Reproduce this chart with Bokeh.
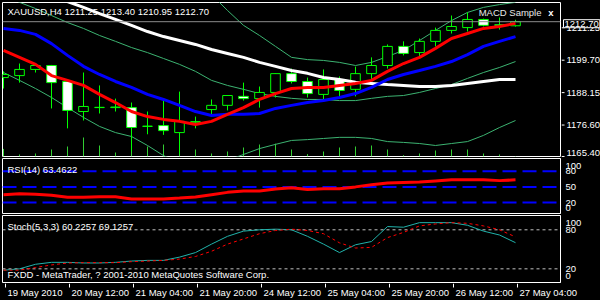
from bokeh.plotting import figure
from bokeh.layouts import column, row
from bokeh.models import (LinearAxis, Range1d, FixedTicker, Span, Label,
                          ColumnDataSource)
from bokeh.core.properties import value
from bokeh.embed import file_html
from bokeh.resources import INLINE

# ---------------- data ----------------
symbol = "XAUUSD"
timeframe = "H4"
ea_name = "MACD Sample"
copyright_text = "FXDD - MetaTrader, ? 2001-2010 MetaQuotes Software Corp."

time_label_bars = [0, 4, 8, 12, 16, 20, 24, 28, 32]
time_labels = ["19 May 2010", "20 May 12:00", "21 May 04:00", "21 May 20:00",
               "24 May 12:00", "25 May 04:00", "25 May 20:00", "26 May 12:00",
               "27 May 04:00"]

open_ = [1192.8, 1193.5, 1195.7, 1197.1, 1191.4, 1180.7, 1182.1, 1182.1, 1182.1, 1175.4,
         1175.7, 1173.2, 1176.9, 1181.4, 1182.9, 1186.1, 1185.3, 1187.5, 1194.2, 1191.4,
         1186.8, 1192.1, 1188.6, 1194.2, 1197.1, 1203.9, 1201.7, 1205.7, 1209.6, 1210.6,
         1213.5, 1211.6, 1211.25]
high = [1195.0, 1197.8, 1197.8, 1197.3, 1191.5, 1194.6, 1190.0, 1185.3, 1183.9, 1180.7,
        1185.0, 1187.8, 1178.9, 1185.0, 1186.5, 1191.0, 1189.6, 1194.3, 1196.0, 1192.8,
        1195.7, 1193.2, 1196.7, 1200.0, 1204.6, 1205.7, 1206.7, 1210.6, 1214.9, 1216.0,
        1213.8, 1214.2, 1213.40]
low = [1188.9, 1191.0, 1194.6, 1181.8, 1174.7, 1177.5, 1180.0, 1180.7, 1166.5, 1172.6,
       1172.4, 1165.5, 1174.7, 1179.3, 1181.1, 1184.6, 1182.1, 1185.7, 1190.7, 1185.7,
       1185.0, 1185.7, 1186.1, 1191.8, 1196.0, 1200.7, 1200.0, 1203.9, 1208.5, 1209.2,
       1211.0, 1209.9, 1210.95]
close = [1193.9, 1195.7, 1197.1, 1191.0, 1181.1, 1182.5, 1182.2, 1182.3, 1175.0, 1175.5,
         1173.9, 1177.2, 1177.1, 1182.9, 1186.4, 1185.3, 1187.5, 1194.2, 1191.4, 1187.1,
         1192.1, 1188.2, 1194.2, 1197.1, 1203.9, 1201.4, 1205.7, 1209.6, 1211.0, 1213.5,
         1211.4, 1211.4, 1212.70]
volume = [1900, 500, 750, 1750, 2500, 4750, 2750, 1000, 2250, 2500, 3000, 2000, 1750,
          750, 1250, 2250, 3000, 3200, 1750, 600, 1250, 2250, 2500, 2750, 1750, 330,
          750, 1500, 1750, 1750, 750, 500, 120]

ma_red = [1202.5, 1200.0, 1197.5, 1193.5, 1191.8, 1190.0, 1186.8, 1183.9, 1180.7, 1178.9,
          1177.9, 1177.2, 1176.1, 1177.2, 1179.7, 1182.1, 1185.0, 1187.1, 1188.9, 1189.3,
          1189.3, 1190.0, 1190.7, 1191.8, 1195.0, 1197.8, 1200.0, 1203.2, 1206.7, 1208.5,
          1210.3, 1211.0, 1212.1]
ma_blue = [1210.3, 1209.6, 1208.2, 1204.9, 1200.7, 1196.8, 1193.9, 1191.4, 1189.3, 1186.8,
           1185.0, 1182.9, 1180.7, 1179.3, 1179.7, 1179.7, 1180.0, 1181.8, 1182.9, 1183.9,
           1184.6, 1185.7, 1187.1, 1189.3, 1192.1, 1193.9, 1195.3, 1196.8, 1198.5, 1201.0,
           1203.9, 1205.7, 1207.4]
ma_white = [1228.1, 1225.6, 1223.1, 1221.3, 1219.9, 1217.8, 1215.6, 1213.5, 1211.4, 1209.2,
            1207.4, 1206.0, 1204.6, 1202.8, 1201.4, 1200.0, 1198.2, 1196.8, 1195.3, 1194.3,
            1192.8, 1192.1, 1191.1, 1190.7, 1190.3, 1190.0, 1189.6, 1189.6, 1190.0, 1190.7,
            1191.4, 1192.1, 1192.1]
bb_upper = [1249.5, 1247.3, 1245.9, 1244.1, 1242.7, 1242.0, 1240.2, 1238.1, 1235.2, 1234.9,
            1234.2, 1232.4, 1229.5, 1222.4, 1216.7, 1211.4, 1207.8, 1203.9, 1200.0, 1199.2,
            1198.9, 1198.2, 1197.1, 1198.2, 1200.3, 1202.5, 1206.0, 1209.6, 1213.1, 1216.0,
            1217.8, 1218.8, 1219.6]
bb_mid = [1222.0, 1219.6, 1217.4, 1214.9, 1212.4, 1210.3, 1207.8, 1205.7, 1203.5, 1201.7,
          1199.6, 1197.5, 1195.0, 1191.8, 1190.0, 1188.6, 1187.1, 1186.1, 1185.4, 1185.0,
          1185.0, 1184.6, 1184.6, 1185.4, 1186.1, 1186.4, 1187.5, 1188.9, 1190.3, 1192.5,
          1194.6, 1196.4, 1198.5]
bb_lower = [1194.6, 1191.8, 1188.9, 1185.7, 1182.1, 1178.6, 1175.4, 1173.2, 1171.8, 1168.6,
            1165.0, 1162.6, 1160.4, 1161.1, 1163.3, 1165.4, 1167.5, 1169.0, 1170.4, 1170.7,
            1171.1, 1171.5, 1171.5, 1171.1, 1170.0, 1169.7, 1169.3, 1168.6, 1169.3, 1170.0,
            1172.2, 1175.0, 1177.5]

rsi = [35, 37, 36, 34, 30, 30, 31, 31, 27, 27, 27, 28.5, 30.5, 35, 39.5, 42, 42, 46, 48.5,
       45, 46.5, 46.5, 50, 54, 57.5, 58.5, 59.5, 61.5, 63.5, 63.5, 63.5, 62, 63.4622]
stoch_main = [18, 20, 27, 30, 30, 29, 29, 30, 32, 33, 33, 38, 45, 58, 70, 78, 80, 81, 80,
              70, 58, 45, 57, 62, 85, 84, 91, 91, 91, 87, 78, 72, 60.2257]
stoch_signal = [18, 18, 22, 26, 29, 29.5, 29.5, 29.5, 31, 32, 33, 35, 39, 47, 58, 66, 74,
                79, 81, 79, 74, 60, 52, 53, 68, 76, 86, 89, 91, 90, 86, 80, 69.1257]

price_ticks = [1165.40, 1176.60, 1188.15, 1199.70, 1211.25]
rsi_levels = [20, 50, 80]
stoch_levels = [20, 80]

# ---------------- layout / style ----------------
FONT = "Liberation Sans"
FS = "9.5px"
BAR_PX = 16
FRAME_W = 558
FIRST_BAR_PX = 1
MAIN_FRAME_H = 154
SCALE_W = 39
idx = list(range(len(close)))

xr = Range1d(-FIRST_BAR_PX / BAR_PX, (FRAME_W - FIRST_BAR_PX) / BAR_PX)
main_r = Range1d(1164.68, 1219.54)
rsi_r = Range1d(-1, 104.4)
sto_r = Range1d(-1, 102)


def base_fig(frame_h, yr, top, bottom, total_h, right=40):
    return figure(width=2 + FRAME_W + right, height=total_h,
                  frame_width=FRAME_W, frame_height=frame_h,
                  x_range=xr, y_range=yr, x_axis_type=None, y_axis_type=None,
                  toolbar_location=None, output_backend="svg",
                  background_fill_color="black", border_fill_color="black",
                  outline_line_color="white", outline_line_width=1,
                  min_border_left=2, min_border_right=right,
                  min_border_top=top, min_border_bottom=bottom)


def right_axis(ticks, overrides):
    return LinearAxis(ticker=FixedTicker(ticks=ticks),
                      major_label_overrides=overrides,
                      axis_line_color="white", major_tick_line_color=None,
                      major_tick_out=0, major_tick_in=0,
                      minor_tick_line_color=None,
                      major_label_text_color="white",
                      major_label_text_font=FONT, major_label_text_font_size=FS,
                      major_label_standoff=5)


def sub_ticks(levels, lo, hi, rng, frame_h, pull_px):
    upp = (rng.end - rng.start) / frame_h
    ticks, over = [], {}
    for v in [lo] + levels + [hi]:
        pos = v
        if v == hi:
            pos = v - pull_px * upp
        elif v == lo:
            pos = v + pull_px * upp
        pos = round(pos, 3)
        ticks.append(pos)
        over[pos] = f"{v:g}"
    return ticks, over


def text_label(p, x, y, text, x_off, y_off, align="left", color="white", style="normal"):
    p.add_layout(Label(x=x, y=y, x_offset=x_off, y_offset=y_off, text=text,
                       text_align=align, text_baseline="middle", text_color=color,
                       text_font=FONT, text_font_size=FS, text_font_style=style))


# ---------------- main price panel ----------------
p1 = base_fig(MAIN_FRAME_H, main_r, 2, 1, 157, right=1)

p1.extra_y_ranges = {"vol": Range1d(0, 38500)}
p1.segment(x0=idx, y0=[0] * len(idx), x1=idx, y1=volume, y_range_name="vol",
           line_color="#32CD32", line_width=1)

for band in (bb_upper, bb_mid, bb_lower):
    p1.line(idx, band, line_color="#3CB371", line_width=1)

body_top = [max(o, c) for o, c in zip(open_, close)]
body_bot = [min(o, c) for o, c in zip(open_, close)]
body_fill = ["black" if c >= o else "white" for o, c in zip(open_, close)]
csrc = ColumnDataSource(dict(x=idx, hi=high, lo=low, top=body_top, bot=body_bot, fill=body_fill))
p1.segment(x0="x", y0="lo", x1="x", y1="hi", source=csrc, line_color="#00FF00", line_width=1)
p1.vbar(x="x", top="top", bottom="bot", width=0.6, source=csrc,
        fill_color="fill", line_color="#00FF00", line_width=1)

p1.line(idx, ma_white, line_color="white", line_width=3)
p1.line(idx, ma_blue, line_color="#0000FF", line_width=3)
p1.line(idx, ma_red, line_color="#FF0000", line_width=3)

p1.add_layout(Span(location=close[-1], dimension="width", line_color="#8C8C8C", line_width=1))

header = f"{symbol},{timeframe}  {open_[-1]:.2f} {high[-1]:.2f} {low[-1]:.2f} {close[-1]:.2f}"
text_label(p1, xr.start, main_r.end, header, 5, -8.5)
text_label(p1, xr.end, main_r.end, ea_name, -19, -9.7, align="right", color="#E8E8E8")
text_label(p1, xr.end, main_r.end, "x", -7, -9.7, align="right", style="bold")

# price scale strip (right of the main panel)
upp_main = (main_r.end - main_r.start) / MAIN_FRAME_H
scale_r = Range1d(main_r.start - 1 * upp_main, main_r.end + 2 * upp_main)
ps = figure(width=SCALE_W, height=157, frame_width=SCALE_W, frame_height=157,
            x_range=Range1d(0, SCALE_W), y_range=scale_r,
            x_axis_type=None, y_axis_type=None, toolbar_location=None,
            output_backend="svg", background_fill_color="black",
            border_fill_color="black", outline_line_color=None,
            min_border_left=0, min_border_right=0, min_border_top=0, min_border_bottom=0)
n_t = len(price_ticks)
ps.segment(x0=[0] * n_t, y0=price_ticks, x1=[3] * n_t, y1=price_ticks,
           line_color="white", line_width=1)
label_y = [max(t, scale_r.start + 7 * upp_main) for t in price_ticks]
ps.text(x=[5] * n_t, y=label_y, text=[f"{t:.2f}" for t in price_ticks],
        text_color="white", text_font=value(FONT), text_font_size=value(FS),
        text_baseline="middle", text_align="left")
ps.add_layout(Label(x=2, y=close[-1], text=f"{close[-1]:.2f}",
                    text_align="left", text_baseline="middle", text_color="white",
                    text_font=FONT, text_font_size=FS,
                    background_fill_color="black", border_line_color="white",
                    padding=1))

# ---------------- RSI panel ----------------
p2 = base_fig(55, rsi_r, 1, 1, 57)
rt, ro = sub_ticks(rsi_levels, 0, 100, rsi_r, 55, 5)
p2.add_layout(right_axis(rt, ro), "right")
for lv in rsi_levels:
    p2.add_layout(Span(location=lv, dimension="width", line_color="#0000FF",
                       line_width=2, line_dash="14 6", level="underlay"))
p2.line(idx, rsi, line_color="#FF0000", line_width=3)
text_label(p2, xr.start, rsi_r.end, f"RSI(14) {rsi[-1]:.4f}", 5, -10.5)

# ---------------- Stochastic panel ----------------
p3 = base_fig(67, sto_r, 1, 1, 69)
st, so = sub_ticks(stoch_levels, 0, 100, sto_r, 67, 6)
p3.add_layout(right_axis(st, so), "right")
for lv in stoch_levels:
    p3.add_layout(Span(location=lv, dimension="width", line_color="#C0C0C0",
                       line_width=1, line_dash="3 3", level="underlay"))
p3.line(idx, stoch_main, line_color="#20B2AA", line_width=1)
p3.line(idx, stoch_signal, line_color="#FF0000", line_width=1, line_dash="3 3")
text_label(p3, xr.start, sto_r.end,
           f"Stoch(5,3,3) {stoch_main[-1]:.4f} {stoch_signal[-1]:.4f}", 5, -11)
text_label(p3, xr.start, sto_r.start, copyright_text, 5, 8)

# ---------------- time scale strip ----------------
TIME_H = 17
pt = figure(width=600, height=TIME_H, frame_width=600, frame_height=TIME_H,
            x_range=Range1d(xr.start - 2 / BAR_PX, xr.start + (600 - 2) / BAR_PX),
            y_range=Range1d(0, TIME_H), x_axis_type=None, y_axis_type=None,
            toolbar_location=None, output_backend="svg",
            background_fill_color="black", border_fill_color="black",
            outline_line_color=None, min_border_left=0, min_border_right=0,
            min_border_top=0, min_border_bottom=0)
n_x = len(time_label_bars)
pt.segment(x0=time_label_bars, y0=[TIME_H] * n_x, x1=time_label_bars, y1=[TIME_H - 4] * n_x,
           line_color="white", line_width=1)
pt.text(x=time_label_bars, y=[8.5] * n_x, text=time_labels, x_offset=2,
        text_color="white", text_font=value(FONT), text_font_size=value(FS),
        text_baseline="middle", text_align="left")

layout = column(row(p1, ps, spacing=0), p2, p3, pt, spacing=0,
                styles={"background-color": "black"})
open("out.html", "w").write(file_html(layout, INLINE))
